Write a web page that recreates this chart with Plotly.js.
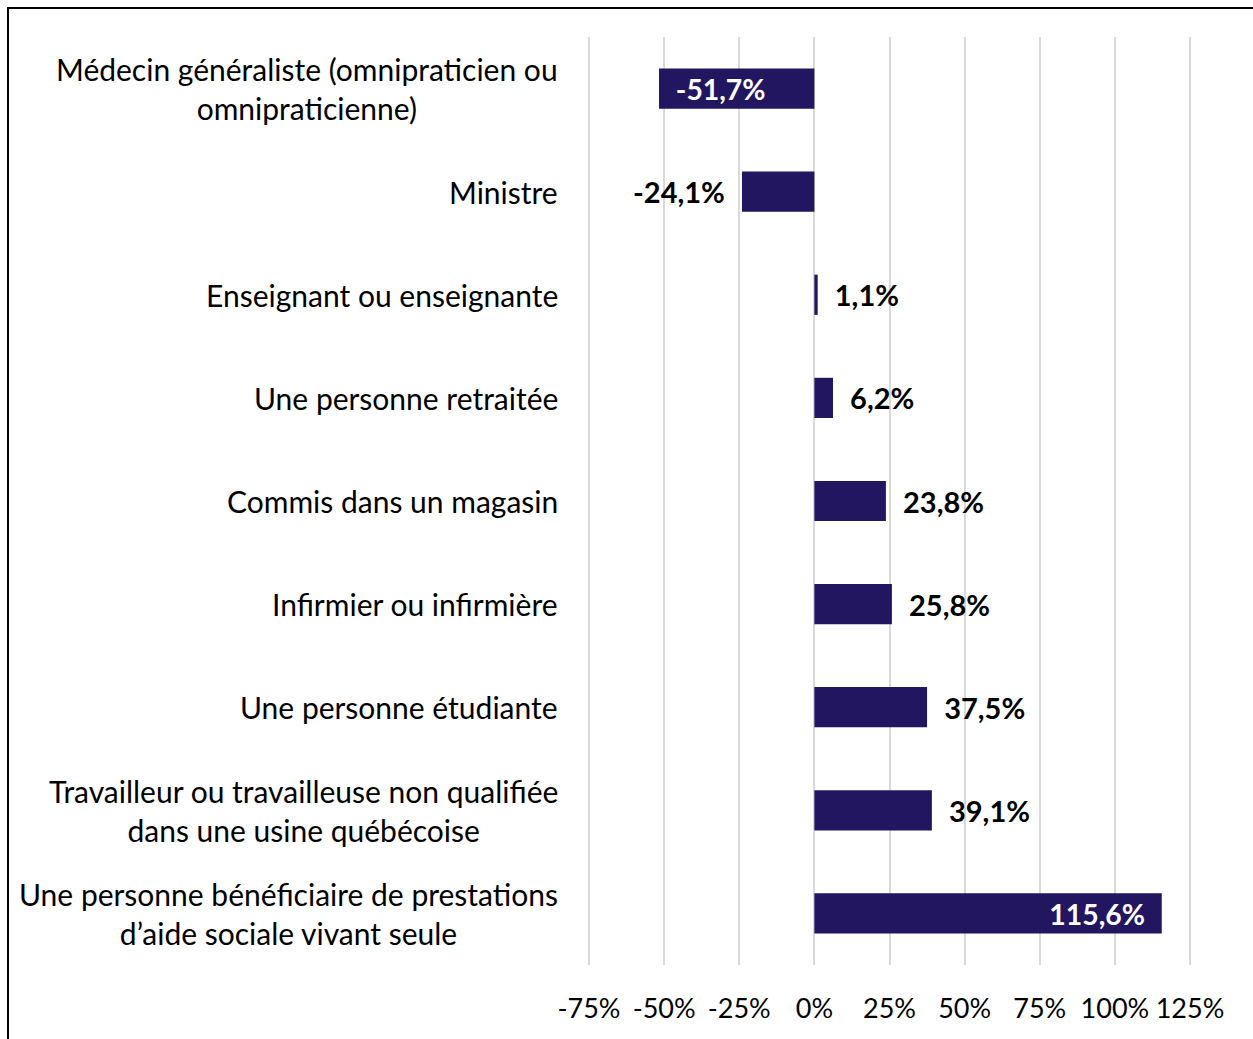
<!DOCTYPE html>
<html>
<head>
<meta charset="utf-8">
<script src="https://cdn.plot.ly/plotly-3.0.1.min.js"></script>
<style>
  html, body { margin: 0; padding: 0; background: #fff; }
  #chart { width: 1253px; height: 1039px; position: absolute; left: 0; top: 0; }
  #frame { position: absolute; left: 7px; top: 7px; width: 1400px; height: 1200px;
           border-top: 2px solid #000; border-left: 2px solid #000; pointer-events: none; }
</style>
</head>
<body>
<div id="chart"></div>
<div id="frame"></div>
<script>
const categories = [
  "Médecin généraliste (omnipraticien ou<br>omnipraticienne)",
  "Ministre",
  "Enseignant ou enseignante",
  "Une personne retraitée",
  "Commis dans un magasin",
  "Infirmier ou infirmière",
  "Une personne étudiante",
  "Travailleur ou travailleuse non qualifiée<br>dans une usine québécoise",
  "Une personne bénéficiaire de prestations<br>d’aide sociale vivant seule"
];
const values = [-51.7, -24.1, 1.1, 6.2, 23.8, 25.8, 37.5, 39.1, 115.6];
const labelPositions = ["inside", "outside", "outside", "outside", "outside", "outside", "outside", "outside", "inside"];
const tickValues = [-75, -50, -25, 0, 25, 50, 75, 100, 125];
const tickLabels = ["-75%", "-50%", "-25%", "0%", "25%", "50%", "75%", "100%", "125%"];

const NB = "\u00a0";
const templates = values.map((v, i) => {
  const t = "%{x:.1f}%";
  if (labelPositions[i] === "inside") {
    return v < 0 ? NB + NB + t : t + NB + NB;
  }
  return v < 0 ? t + NB + NB : NB + NB + t;
});

const FONT = "Lato, 'Open Sans', sans-serif";
const barColor = "#21165f";

const trace = {
  type: "bar",
  orientation: "h",
  y: categories,
  x: values,
  marker: { color: barColor, line: { width: 0 } },
  width: 0.39,
  texttemplate: templates,
  textposition: labelPositions,
  insidetextanchor: "end",
  insidetextfont: { family: FONT, size: 29, color: "#ffffff", weight: 700 },
  outsidetextfont: { family: FONT, size: 29, color: "#000000", weight: 700 },
  cliponaxis: false,
  hoverinfo: "skip"
};

const annotations = categories.map(c => ({
  xref: "paper", yref: "y", x: 0, y: c,
  xanchor: "right", yanchor: "middle", xshift: -26,
  align: "center", showarrow: false, text: c,
  font: { family: FONT, size: 30, color: "#000" }
}));

const layout = {
  width: 1253, height: 1039,
  margin: { l: 586, r: 60, t: 37, b: 74, pad: 0 },
  paper_bgcolor: "#fff", plot_bgcolor: "#fff",
  separators: ", ",
  showlegend: false,
  font: { family: FONT, size: 29, color: "#000" },
  xaxis: {
    range: [-76, 126], tickvals: tickValues, ticktext: tickLabels,
    tickangle: 0,
    showgrid: true, gridcolor: "#d9d9d9", gridwidth: 2,
    zeroline: false, showline: false, ticks: "",
    ticklabelstandoff: 25,
    tickfont: { family: FONT, size: 27, color: "#000" },
    fixedrange: true
  },
  yaxis: {
    type: "category", autorange: "reversed",
    showticklabels: false, showgrid: false, zeroline: false, showline: false, ticks: "",
    fixedrange: true
  },
  annotations: annotations
};

Plotly.newPlot("chart", [trace], layout, { staticPlot: true, displayModeBar: false });
</script>
</body>
</html>
